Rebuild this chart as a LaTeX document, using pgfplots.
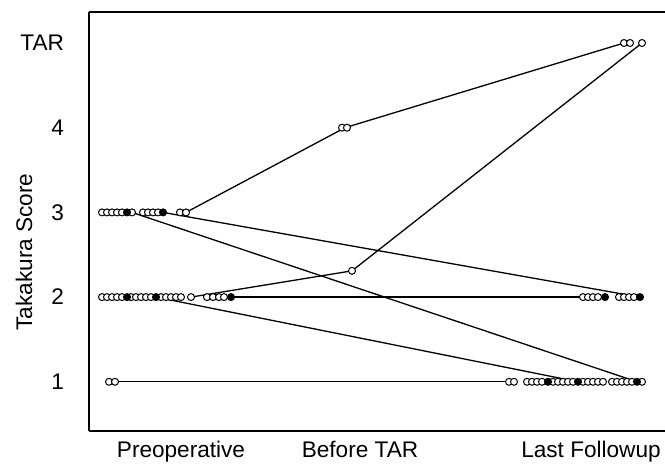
\documentclass[border=0pt]{standalone}
\usepackage{pgfplots}
\pgfplotsset{compat=1.18}
\usepackage{pgfplotstable}
\usepackage{fontspec}
\setmainfont{Liberation Sans}

% open circles (x position in plot, Takakura level; 5 = TAR)
\pgfplotstableread{
x y
102 3
107 3
112 3
117 3
122 3
132 3
143 3
148 3
153 3
158 3
180 3
186 3
102 2
107 2
112 2
117 2
122 2
131 2
136 2
141 2
146 2
151 2
161 2
166 2
171 2
176 2
181 2
191 2
207 2
213 2
219 2
224 2
109 1
115 1
342 4
347 4
352 2.31
509 1
514 1
527 1
532 1
537 1
542 1
553 1
558 1
563 1
568 1
573 1
583 1
588 1
593 1
598 1
603 1
612 1
617 1
622 1
627 1
632 1
642 1
583 2
588 2
593 2
598 2
619 2
624 2
629 2
634 2
624 5
630 5
642 5
}\opendata

% filled circles
\pgfplotstableread{
x y
127 3
163 3
127 2
156 2
231 2
548 1
578 1
637 1
605 2
640 2
}\filleddata

\begin{document}
\begin{tikzpicture}
\begin{axis}[
  at={(0,0)}, anchor=south west,
  scale only axis,
  width=288pt, height=209.5pt,
  xmin=89, xmax=665,
  ymin=0.419, ymax=5.366,
  axis x line*=bottom, axis y line*=left,
  axis line style={line width=0.8pt},
  xtick={181,360,591},
  xticklabels={Preoperative,Before TAR,Last Followup},
  ytick={1,2,3,4,5},
  yticklabels={1,2,3,4,TAR},
  major tick length=0pt,
  tick style={draw=none},
  every tick label/.append style={font=\fontsize{11.3}{13}\selectfont},
  xticklabel style={yshift=-1.5pt},
  yticklabel style={xshift=-9pt},
  /pgf/number format/assume math mode=true,
  clip=false,
]
\draw[line width=0.8pt] (rel axis cs:0,1) -- (rel axis cs:1,1);
\node[rotate=90, font=\fontsize{11.3}{13}\selectfont] at ([xshift=-32.5pt]rel axis cs:0,0.427) {Takakura Score};

\addplot[black, line width=0.65pt, mark=none] coordinates {(186,3) (345,4) (624,5)};
\addplot[black, line width=0.65pt, mark=none] coordinates {(132,3) (637,1)};
\addplot[black, line width=0.65pt, mark=none] coordinates {(163,3) (640,2)};
\addplot[black, line width=0.65pt, mark=none] coordinates {(191,2) (352,2.31) (642,5)};
\addplot[black, line width=0.65pt, mark=none] coordinates {(231,2) (583,2)};
\addplot[black, line width=0.65pt, mark=none] coordinates {(156,2) (578,1)};
\addplot[black, line width=0.65pt, mark=none] coordinates {(115,1) (509,1)};

\addplot[only marks, mark=*, mark size=1.75pt, mark options={draw=black, fill=white, line width=0.5pt}] table {\opendata};
\addplot[only marks, mark=*, mark size=1.75pt, mark options={draw=black, fill=black, line width=0.5pt}] table {\filleddata};
\end{axis}
\pgfresetboundingbox
\path[use as bounding box] (-44.5pt,-16pt) rectangle (288pt,215.5pt);
\end{tikzpicture}
\end{document}
